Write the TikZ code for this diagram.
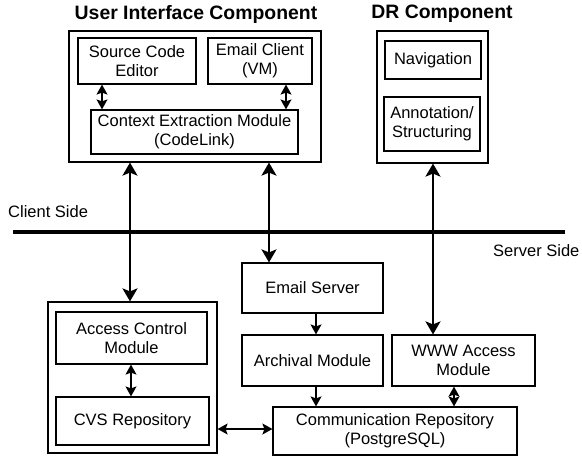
\documentclass[tikz,border=0pt]{standalone}
\usepackage{fontspec}
\setmainfont{Liberation Sans}
\usetikzlibrary{arrows.meta,positioning}

\begin{document}
\begin{tikzpicture}[
  x=1pt, y=-1pt,
  comp/.style={rectangle, draw, line width=1.2pt, inner sep=0pt},
  module/.style={rectangle, draw, line width=1.2pt, inner sep=0pt,
                 align=center, font=\fontsize{16.5}{19}\selectfont},
  title/.style={font=\bfseries\fontsize{19.4}{22}\selectfont},
  side/.style={inner sep=0pt, font=\fontsize{16.5}{19}\selectfont},
  arr/.style={-{Stealth[length=10pt, width=11pt, inset=2pt]}, line width=1.2pt},
  darr/.style={{Stealth[length=10pt, width=11pt, inset=2pt]}-{Stealth[length=10pt, width=11pt, inset=2pt]},
               line width=1.2pt},
  bigarr/.style={{Stealth[length=13pt, width=15pt, inset=3pt]}-{Stealth[length=13pt, width=15pt, inset=3pt]},
                 line width=2pt},
]
  \useasboundingbox (0,0) rectangle (582,456);

  % client side
  \node[title] (uititle) at (196,14) {User Interface Component};
  \node[comp, minimum width=252, minimum height=131] (ui) at (195,96.5) {};
  \node[module, minimum width=118, minimum height=46] (src) at (137,61) {Source Code\\Editor};
  \node[module, minimum width=104, minimum height=46] (mail) at (260,61) {Email Client\\(VM)};
  \node[module, minimum width=207, minimum height=44] (ctx) at (194.5,132) {Context Extraction Module\\(CodeLink)};

  \node[title] (drtitle) at (442,14) {DR Component};
  \node[comp, minimum width=111, minimum height=132] (dr) at (432.5,97) {};
  \node[module, minimum width=96, minimum height=38] (nav) at (433,60) {Navigation};
  \node[module, minimum width=96, minimum height=54] (annot) at (432,124) {Annotation/\\Structuring};

  % divider
  \node[side, anchor=west] (client) at (8,212) {Client Side};
  \node[side, anchor=west] (server) at (493,251) {Server Side};
  \coordinate (divl) at (13,232);
  \coordinate (divr) at (565,232);
  \draw[line width=4.5pt] (divl) -- (divr);

  % server side
  \node[comp, minimum width=169, minimum height=151] (acc) at (132.5,377.5) {};
  \node[module, minimum width=151, minimum height=52] (acm) at (131.5,338) {Access Control\\Module};
  \node[module, minimum width=153, minimum height=48] (cvs) at (132.5,421) {CVS Repository};
  \node[module, minimum width=141, minimum height=50] (esrv) at (312.5,288) {Email Server};
  \node[module, minimum width=141, minimum height=51] (arch) at (312.5,360.5) {Archival Module};
  \node[module, minimum width=143, minimum height=51] (www) at (463.5,360.5) {WWW Access\\Module};
  \node[module, minimum width=244, minimum height=48] (comm) at (395,431) {Communication Repository\\(PostgreSQL)};

  \draw[darr] (src.south -| 102,0) -- (ctx.north -| 102,0);
  \draw[darr] (mail.south -| 286,0) -- (ctx.north -| 286,0);
  \draw[bigarr] (ui.south -| 130,0) -- (acc.north -| 130,0);
  \draw[bigarr] (ui.south -| 269,0) -- (esrv.north -| 269,0);
  \draw[bigarr] (dr.south -| 433,0) -- (www.north -| 433,0);
  \draw[darr] (acm.south -| 131,0) -- (cvs.north -| 131,0);
  \draw[arr] (esrv.south -| 316,0) -- (arch.north -| 316,0);
  \draw[arr] (arch.south -| 316,0) -- (comm.north -| 316,0);
  \draw[darr] (www.south -| 454,0) -- (comm.north -| 454,0);
  \draw[darr] (acc.east |- 0,429) -- (comm.west |- 0,429);
\end{tikzpicture}
\end{document}
